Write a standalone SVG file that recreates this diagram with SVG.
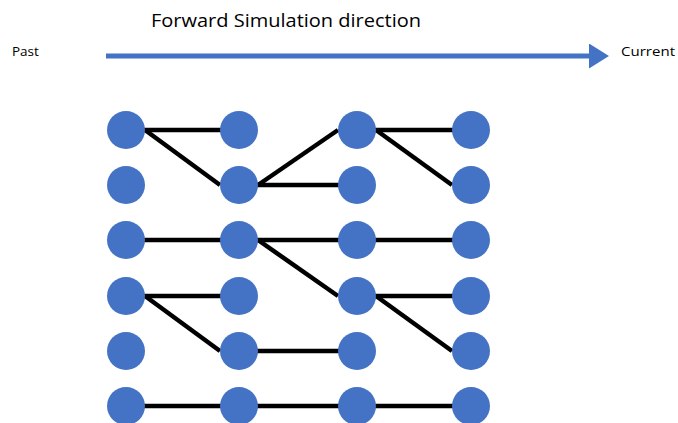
<svg xmlns="http://www.w3.org/2000/svg" width="678" height="423" viewBox="0 0 678 423">
<defs>
<style>
.n{fill:#4472C4}
.e{stroke:#000;stroke-width:4.5;fill:none}
.t{font-family:"Open Sans","Liberation Sans",sans-serif;fill:#000}
</style>
<marker id="ah" markerWidth="5" markerHeight="5" refX="0" refY="2.5" orient="auto" markerUnits="strokeWidth"><path d="M0,0 L4,2.5 L0,5 Z" fill="#4472C4"/></marker>
</defs>
<rect width="678" height="423" fill="#fff"/>
<text class="t" x="151" y="27" font-size="18.5" textLength="270" lengthAdjust="spacingAndGlyphs">Forward Simulation direction</text>
<text class="t" x="12" y="56" font-size="13.5">Past</text>
<text class="t" x="621" y="56" font-size="13.5" textLength="54" lengthAdjust="spacingAndGlyphs">Current</text>
<g id="arrow">
<line x1="106" y1="56" x2="589" y2="56" stroke="#4472C4" stroke-width="5" marker-end="url(#ah)"/>
</g>
<g id="connectors">
<line class="e" x1="126" y1="130" x2="239" y2="130"/>
<line class="e" x1="145" y1="130" x2="220" y2="185"/>
<line class="e" x1="126" y1="240" x2="239" y2="240"/>
<line class="e" x1="126" y1="296" x2="239" y2="296"/>
<line class="e" x1="145" y1="296" x2="220" y2="351"/>
<line class="e" x1="126" y1="406" x2="239" y2="406"/>
<line class="e" x1="258" y1="185" x2="338" y2="130"/>
<line class="e" x1="239" y1="185" x2="357" y2="185"/>
<line class="e" x1="239" y1="240" x2="357" y2="240"/>
<line class="e" x1="258" y1="240" x2="338" y2="296"/>
<line class="e" x1="239" y1="351" x2="357" y2="351"/>
<line class="e" x1="239" y1="406" x2="357" y2="406"/>
<line class="e" x1="357" y1="130" x2="471" y2="130"/>
<line class="e" x1="376" y1="130" x2="452" y2="185"/>
<line class="e" x1="357" y1="240" x2="471" y2="240"/>
<line class="e" x1="357" y1="296" x2="471" y2="296"/>
<line class="e" x1="376" y1="296" x2="452" y2="351"/>
<line class="e" x1="357" y1="406" x2="471" y2="406"/>
</g>
<g id="n11"><circle class="n" cx="126" cy="130" r="19"/></g>
<g id="n12"><circle class="n" cx="126" cy="185" r="19"/></g>
<g id="n13"><circle class="n" cx="126" cy="240" r="19"/></g>
<g id="n14"><circle class="n" cx="126" cy="296" r="19"/></g>
<g id="n15"><circle class="n" cx="126" cy="351" r="19"/></g>
<g id="n16"><circle class="n" cx="126" cy="406" r="19"/></g>
<g id="n21"><circle class="n" cx="239" cy="130" r="19"/></g>
<g id="n22"><circle class="n" cx="239" cy="185" r="19"/></g>
<g id="n23"><circle class="n" cx="239" cy="240" r="19"/></g>
<g id="n24"><circle class="n" cx="239" cy="296" r="19"/></g>
<g id="n25"><circle class="n" cx="239" cy="351" r="19"/></g>
<g id="n26"><circle class="n" cx="239" cy="406" r="19"/></g>
<g id="n31"><circle class="n" cx="357" cy="130" r="19"/></g>
<g id="n32"><circle class="n" cx="357" cy="185" r="19"/></g>
<g id="n33"><circle class="n" cx="357" cy="240" r="19"/></g>
<g id="n34"><circle class="n" cx="357" cy="296" r="19"/></g>
<g id="n35"><circle class="n" cx="357" cy="351" r="19"/></g>
<g id="n36"><circle class="n" cx="357" cy="406" r="19"/></g>
<g id="n41"><circle class="n" cx="471" cy="130" r="19"/></g>
<g id="n42"><circle class="n" cx="471" cy="185" r="19"/></g>
<g id="n43"><circle class="n" cx="471" cy="240" r="19"/></g>
<g id="n44"><circle class="n" cx="471" cy="296" r="19"/></g>
<g id="n45"><circle class="n" cx="471" cy="351" r="19"/></g>
<g id="n46"><circle class="n" cx="471" cy="406" r="19"/></g>
</svg>
